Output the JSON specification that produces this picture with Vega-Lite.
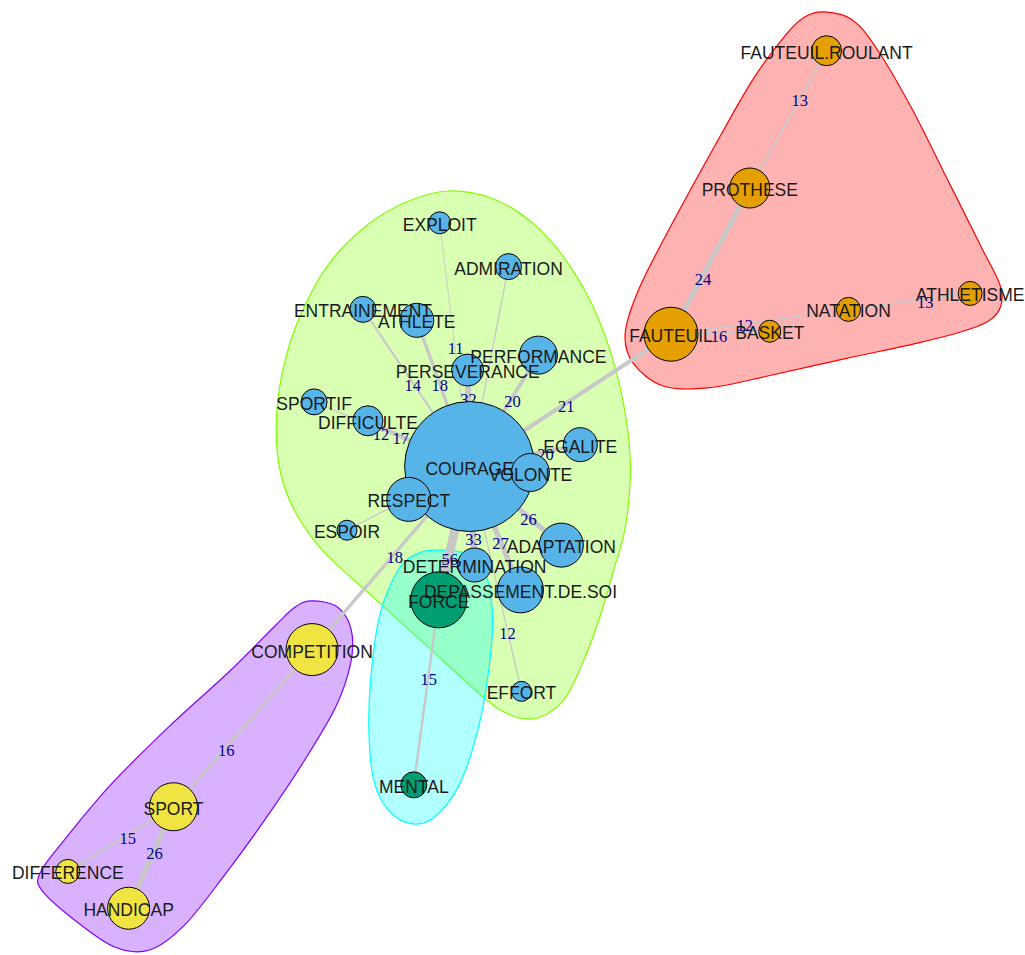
{
  "$schema": "https://vega.github.io/schema/vega-lite/v6.json",
  "width": 1025,
  "height": 955,
  "autosize": {"type": "fit", "contains": "padding"},
  "padding": 0,
  "background": "white",
  "config": {"view": {"stroke": null}},
  "datasets": {
    "nodes": [
      {"name": "FAUTEUIL.ROULANT", "x": 829, "y": 51, "r": 15, "g": "1"},
      {"name": "PROTHESE", "x": 752, "y": 189, "r": 20, "g": "1"},
      {"name": "FAUTEUIL", "x": 673, "y": 336, "r": 27, "g": "1"},
      {"name": "BASKET", "x": 772, "y": 333, "r": 11, "g": "1"},
      {"name": "NATATION", "x": 851, "y": 311, "r": 12, "g": "1"},
      {"name": "ATHLETISME", "x": 973, "y": 295, "r": 12, "g": "1"},
      {"name": "EXPLOIT", "x": 441, "y": 224, "r": 11, "g": "2"},
      {"name": "ADMIRATION", "x": 510, "y": 268, "r": 13, "g": "2"},
      {"name": "ENTRAINEMENT", "x": 364, "y": 311, "r": 13, "g": "2"},
      {"name": "ATHLETE", "x": 418, "y": 322, "r": 17, "g": "2"},
      {"name": "PERSEVERANCE", "x": 469, "y": 372, "r": 16, "g": "2"},
      {"name": "PERFORMANCE", "x": 540, "y": 357, "r": 19, "g": "2"},
      {"name": "SPORTIF", "x": 315, "y": 404, "r": 13, "g": "2"},
      {"name": "DIFFICULTE", "x": 369, "y": 423, "r": 15, "g": "2"},
      {"name": "COURAGE", "x": 471, "y": 469, "r": 65, "g": "2"},
      {"name": "EGALITE", "x": 582, "y": 447, "r": 17, "g": "2"},
      {"name": "VOLONTE", "x": 532, "y": 475, "r": 19, "g": "2"},
      {"name": "RESPECT", "x": 410, "y": 502, "r": 22, "g": "2"},
      {"name": "ESPOIR", "x": 348, "y": 533, "r": 10, "g": "2"},
      {"name": "ADAPTATION", "x": 563, "y": 548, "r": 22, "g": "2"},
      {"name": "DETERMINATION", "x": 476, "y": 568, "r": 17, "g": "2"},
      {"name": "DEPASSEMENT.DE.SOI", "x": 522, "y": 593, "r": 23, "g": "2"},
      {"name": "EFFORT", "x": 523, "y": 695, "r": 10, "g": "2"},
      {"name": "FORCE", "x": 440, "y": 603, "r": 28, "g": "3"},
      {"name": "MENTAL", "x": 415, "y": 789, "r": 13, "g": "3"},
      {"name": "COMPETITION", "x": 313, "y": 653, "r": 26, "g": "4"},
      {"name": "SPORT", "x": 174, "y": 811, "r": 24, "g": "4"},
      {"name": "DIFFERENCE", "x": 68, "y": 876, "r": 12, "g": "4"},
      {"name": "HANDICAP", "x": 129, "y": 913, "r": 21, "g": "4"}
    ],
    "edges": [
      {"source": "COURAGE", "target": "FAUTEUIL", "w": 21, "lx": 568, "ly": 408},
      {"source": "FAUTEUIL", "target": "PROTHESE", "w": 24, "lx": 705, "ly": 280},
      {"source": "PROTHESE", "target": "FAUTEUIL.ROULANT", "w": 13, "lx": 802, "ly": 101},
      {"source": "FAUTEUIL", "target": "BASKET", "w": 16, "lx": 721, "ly": 338},
      {"source": "FAUTEUIL", "target": "NATATION", "w": 12, "lx": 747, "ly": 327},
      {"source": "NATATION", "target": "ATHLETISME", "w": 13, "lx": 928, "ly": 304},
      {"source": "COURAGE", "target": "EXPLOIT", "w": 11, "lx": 457, "ly": 350},
      {"source": "COURAGE", "target": "ADMIRATION", "w": 12, "lx": null, "ly": null},
      {"source": "COURAGE", "target": "ENTRAINEMENT", "w": 14, "lx": 414, "ly": 387},
      {"source": "COURAGE", "target": "ATHLETE", "w": 18, "lx": 441, "ly": 387},
      {"source": "COURAGE", "target": "PERSEVERANCE", "w": 32, "lx": 470, "ly": 401},
      {"source": "COURAGE", "target": "PERFORMANCE", "w": 20, "lx": 514, "ly": 403},
      {"source": "COURAGE", "target": "SPORTIF", "w": 12, "lx": 382, "ly": 436},
      {"source": "COURAGE", "target": "DIFFICULTE", "w": 17, "lx": 402, "ly": 440},
      {"source": "COURAGE", "target": "EGALITE", "w": 20, "lx": 547, "ly": 456},
      {"source": "COURAGE", "target": "VOLONTE", "w": 25, "lx": null, "ly": null},
      {"source": "COURAGE", "target": "RESPECT", "w": 30, "lx": null, "ly": null},
      {"source": "COURAGE", "target": "ESPOIR", "w": 12, "lx": null, "ly": null},
      {"source": "COURAGE", "target": "ADAPTATION", "w": 26, "lx": 530, "ly": 522},
      {"source": "COURAGE", "target": "DEPASSEMENT.DE.SOI", "w": 27, "lx": 502, "ly": 546},
      {"source": "COURAGE", "target": "DETERMINATION", "w": 33, "lx": 475, "ly": 542},
      {"source": "COURAGE", "target": "FORCE", "w": 56, "lx": 451, "ly": 562},
      {"source": "COURAGE", "target": "EFFORT", "w": 12, "lx": 509, "ly": 636},
      {"source": "COURAGE", "target": "COMPETITION", "w": 18, "lx": 396, "ly": 560},
      {"source": "FORCE", "target": "MENTAL", "w": 15, "lx": 430, "ly": 683},
      {"source": "COMPETITION", "target": "SPORT", "w": 16, "lx": 227, "ly": 754},
      {"source": "SPORT", "target": "DIFFERENCE", "w": 15, "lx": 128, "ly": 842},
      {"source": "SPORT", "target": "HANDICAP", "w": 26, "lx": 155, "ly": 857}
    ],
    "hulls": [
      {"g": "1", "i": 1, "x": 827, "y": 12},
      {"g": "1", "i": 2, "x": 855, "y": 20},
      {"g": "1", "i": 3, "x": 880, "y": 50},
      {"g": "1", "i": 4, "x": 915, "y": 110},
      {"g": "1", "i": 5, "x": 950, "y": 180},
      {"g": "1", "i": 6, "x": 985, "y": 250},
      {"g": "1", "i": 7, "x": 1004, "y": 290},
      {"g": "1", "i": 8, "x": 1000, "y": 315},
      {"g": "1", "i": 9, "x": 975, "y": 330},
      {"g": "1", "i": 10, "x": 920, "y": 345},
      {"g": "1", "i": 11, "x": 850, "y": 360},
      {"g": "1", "i": 12, "x": 770, "y": 378},
      {"g": "1", "i": 13, "x": 710, "y": 390},
      {"g": "1", "i": 14, "x": 665, "y": 388},
      {"g": "1", "i": 15, "x": 635, "y": 365},
      {"g": "1", "i": 16, "x": 627, "y": 335},
      {"g": "1", "i": 17, "x": 641, "y": 290},
      {"g": "1", "i": 18, "x": 674, "y": 225},
      {"g": "1", "i": 19, "x": 715, "y": 150},
      {"g": "1", "i": 20, "x": 755, "y": 80},
      {"g": "1", "i": 21, "x": 788, "y": 35},
      {"g": "1", "i": 22, "x": 807, "y": 17},
      {"g": "2", "i": 1, "x": 450, "y": 192},
      {"g": "2", "i": 2, "x": 495, "y": 200},
      {"g": "2", "i": 3, "x": 535, "y": 225},
      {"g": "2", "i": 4, "x": 570, "y": 265},
      {"g": "2", "i": 5, "x": 600, "y": 320},
      {"g": "2", "i": 6, "x": 622, "y": 390},
      {"g": "2", "i": 7, "x": 632, "y": 460},
      {"g": "2", "i": 8, "x": 628, "y": 525},
      {"g": "2", "i": 9, "x": 615, "y": 575},
      {"g": "2", "i": 10, "x": 600, "y": 625},
      {"g": "2", "i": 11, "x": 585, "y": 665},
      {"g": "2", "i": 12, "x": 568, "y": 700},
      {"g": "2", "i": 13, "x": 550, "y": 717},
      {"g": "2", "i": 14, "x": 530, "y": 723},
      {"g": "2", "i": 15, "x": 508, "y": 717},
      {"g": "2", "i": 16, "x": 485, "y": 701},
      {"g": "2", "i": 17, "x": 430, "y": 651},
      {"g": "2", "i": 18, "x": 375, "y": 601},
      {"g": "2", "i": 19, "x": 325, "y": 555},
      {"g": "2", "i": 20, "x": 298, "y": 518},
      {"g": "2", "i": 21, "x": 282, "y": 478},
      {"g": "2", "i": 22, "x": 277, "y": 430},
      {"g": "2", "i": 23, "x": 283, "y": 375},
      {"g": "2", "i": 24, "x": 300, "y": 320},
      {"g": "2", "i": 25, "x": 330, "y": 265},
      {"g": "2", "i": 26, "x": 370, "y": 225},
      {"g": "2", "i": 27, "x": 410, "y": 202},
      {"g": "3", "i": 1, "x": 440, "y": 553},
      {"g": "3", "i": 2, "x": 468, "y": 557},
      {"g": "3", "i": 3, "x": 487, "y": 577},
      {"g": "3", "i": 4, "x": 494, "y": 620},
      {"g": "3", "i": 5, "x": 490, "y": 675},
      {"g": "3", "i": 6, "x": 479, "y": 735},
      {"g": "3", "i": 7, "x": 460, "y": 790},
      {"g": "3", "i": 8, "x": 435, "y": 822},
      {"g": "3", "i": 9, "x": 412, "y": 828},
      {"g": "3", "i": 10, "x": 390, "y": 815},
      {"g": "3", "i": 11, "x": 375, "y": 785},
      {"g": "3", "i": 12, "x": 370, "y": 735},
      {"g": "3", "i": 13, "x": 372, "y": 680},
      {"g": "3", "i": 14, "x": 381, "y": 618},
      {"g": "3", "i": 15, "x": 400, "y": 572},
      {"g": "3", "i": 16, "x": 420, "y": 556},
      {"g": "4", "i": 1, "x": 312, "y": 604},
      {"g": "4", "i": 2, "x": 338, "y": 610},
      {"g": "4", "i": 3, "x": 352, "y": 632},
      {"g": "4", "i": 4, "x": 352, "y": 665},
      {"g": "4", "i": 5, "x": 337, "y": 710},
      {"g": "4", "i": 6, "x": 305, "y": 765},
      {"g": "4", "i": 7, "x": 265, "y": 825},
      {"g": "4", "i": 8, "x": 225, "y": 880},
      {"g": "4", "i": 9, "x": 185, "y": 930},
      {"g": "4", "i": 10, "x": 150, "y": 955},
      {"g": "4", "i": 11, "x": 115, "y": 952},
      {"g": "4", "i": 12, "x": 75, "y": 925},
      {"g": "4", "i": 13, "x": 42, "y": 895},
      {"g": "4", "i": 14, "x": 40, "y": 878},
      {"g": "4", "i": 15, "x": 60, "y": 850},
      {"g": "4", "i": 16, "x": 110, "y": 790},
      {"g": "4", "i": 17, "x": 170, "y": 730},
      {"g": "4", "i": 18, "x": 230, "y": 675},
      {"g": "4", "i": 19, "x": 275, "y": 630},
      {"g": "4", "i": 20, "x": 295, "y": 611}
    ]
  },
  "layer": [
    {
      "data": {"name": "hulls"},
      "mark": {"type": "line", "interpolate": "cardinal-closed", "fillOpacity": 0.3, "strokeWidth": 1.2},
      "encoding": {
        "x": {"field": "x", "type": "quantitative", "scale": {"domain": [0, 1025], "nice": false, "zero": false}, "axis": null},
        "y": {"field": "y", "type": "quantitative", "scale": {"domain": [0, 955], "nice": false, "zero": false, "reverse": true}, "axis": null},
        "order": {"field": "i", "type": "quantitative"},
        "fill": {"field": "g", "type": "nominal", "legend": null, "scale": {"domain": ["1", "2", "3", "4"], "range": ["#FF0000", "#80FF00", "#00FFFF", "#8000FF"]}},
        "stroke": {"field": "g", "type": "nominal", "legend": null, "scale": {"domain": ["1", "2", "3", "4"], "range": ["#FF0000", "#80FF00", "#00FFFF", "#8000FF"]}}
      }
    },
    {
      "data": {"name": "edges"},
      "transform": [
        {"lookup": "source", "from": {"data": {"name": "nodes"}, "key": "name", "fields": ["x", "y"]}, "as": ["sx", "sy"]},
        {"lookup": "target", "from": {"data": {"name": "nodes"}, "key": "name", "fields": ["x", "y"]}, "as": ["tx", "ty"]}
      ],
      "mark": {"type": "rule", "stroke": "#C8C8C8"},
      "encoding": {
        "x": {"field": "sx", "type": "quantitative"},
        "y": {"field": "sy", "type": "quantitative"},
        "x2": {"field": "tx"},
        "y2": {"field": "ty"},
        "strokeWidth": {"field": "w", "type": "quantitative", "legend": null, "scale": {"type": "log", "domain": [11, 56], "range": [0.9, 9]}}
      }
    },
    {
      "data": {"name": "edges"},
      "transform": [{"filter": "isValid(datum.lx)"}],
      "mark": {"type": "text", "font": "Liberation Serif", "fontSize": 16.5, "fill": "#00008B", "align": "center", "baseline": "middle", "dy": 1},
      "encoding": {
        "x": {"field": "lx", "type": "quantitative"},
        "y": {"field": "ly", "type": "quantitative"},
        "text": {"field": "w", "type": "nominal"}
      }
    },
    {
      "data": {"name": "nodes"},
      "mark": {"type": "circle", "opacity": 1, "stroke": "#000000", "strokeWidth": 1},
      "encoding": {
        "x": {"field": "x", "type": "quantitative"},
        "y": {"field": "y", "type": "quantitative"},
        "size": {"field": "r", "type": "quantitative", "legend": null, "scale": {"type": "pow", "exponent": 2, "domain": [0, 65], "range": [0, 16900]}},
        "color": {"field": "g", "type": "nominal", "legend": null, "scale": {"domain": ["1", "2", "3", "4"], "range": ["#E69F00", "#56B4E9", "#009E73", "#F0E442"]}}
      }
    },
    {
      "data": {"name": "nodes"},
      "mark": {"type": "text", "font": "Liberation Sans", "fontSize": 17.5, "fill": "#1a1a1a", "align": "center", "baseline": "middle", "dy": 3},
      "encoding": {
        "x": {"field": "x", "type": "quantitative"},
        "y": {"field": "y", "type": "quantitative"},
        "text": {"field": "name", "type": "nominal"}
      }
    }
  ]
}
